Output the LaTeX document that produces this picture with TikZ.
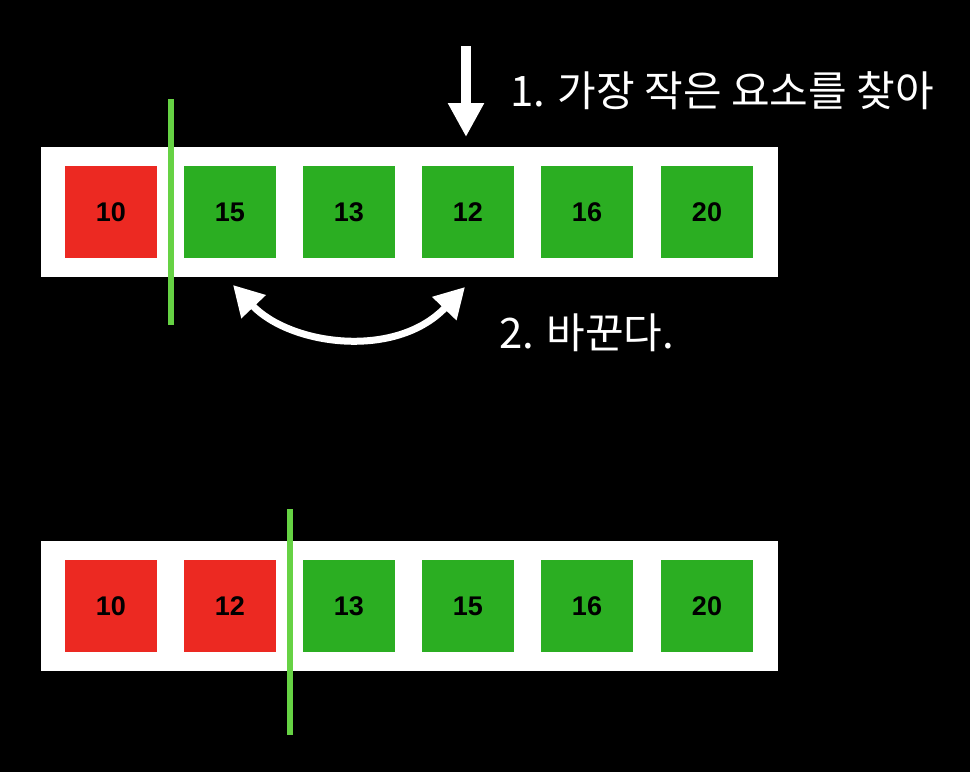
\documentclass[tikz,border=0pt]{standalone}
\usepackage{fontspec}
\setmainfont{Liberation Sans}
\newfontfamily\kr{Noto Sans CJK KR}
\usetikzlibrary{arrows.meta}
\definecolor{cred}{HTML}{EC2922}
\definecolor{cgreen}{HTML}{2BAE22}
\definecolor{cline}{HTML}{66D244}
\tikzset{
  cellbox/.style={minimum width=92pt,minimum height=92pt,inner sep=0pt,font=\fontsize{27}{27}\selectfont\bfseries,text=black},
  redcell/.style={cellbox,fill=cred},
  greencell/.style={cellbox,fill=cgreen},
  trayframe/.style={fill=white,draw=none},
  divider/.style={draw=cline,line width=6pt},
  krlabel/.style={text=white,font=\kr\fontsize{42}{42}\selectfont,inner sep=0pt},
  whitearrow/.style={draw=white}
}
\begin{document}
\begin{tikzpicture}[x=1pt,y=-1pt]
\useasboundingbox[fill=black] (0,0) rectangle (970,772);
% top tray
\fill[trayframe] (41,147) rectangle (778,277);
\node[redcell] (t1) at (111,212) {10};
\node[greencell] (t2) at (230,212) {15};
\node[greencell] (t3) at (349,212) {13};
\node[greencell] (t4) at (468,212) {12};
\node[greencell] (t5) at (587,212) {16};
\node[greencell] (t6) at (707,212) {20};
\coordinate (d1a) at (171,99);
\coordinate (d1b) at (171,325);
\draw[divider] (d1a) -- (d1b);
% bottom tray
\fill[trayframe] (41,541) rectangle (778,671);
\node[redcell] (b1) at (111,606) {10};
\node[redcell] (b2) at (230,606) {12};
\node[greencell] (b3) at (349,606) {13};
\node[greencell] (b4) at (468,606) {15};
\node[greencell] (b5) at (587,606) {16};
\node[greencell] (b6) at (707,606) {20};
\coordinate (d2a) at (290,509);
\coordinate (d2b) at (290,735);
\draw[divider] (d2a) -- (d2b);
% down arrow
\coordinate (arrtop) at (466,46);
\coordinate (arrtip) at (466,137);
\draw[whitearrow,line width=10pt,-{Triangle[length=34pt,width=34pt]}] (arrtop) -- (arrtip);
\node[krlabel,anchor=base west] (lab1) at (510,106) {1. 가장 작은 요소를 찾아};
% swap arrow
\coordinate (sw1) at (233,285);
\coordinate (sw2) at (465,287);
\draw[whitearrow,line width=7pt,{Triangle[length=30pt,width=32pt]}-{Triangle[length=30pt,width=32pt]}] (sw1) .. controls (290,345) and (395,360) .. (sw2);
\node[krlabel,anchor=base west] (lab2) at (499,348) {2. 바꾼다.};
\end{tikzpicture}
\end{document}
